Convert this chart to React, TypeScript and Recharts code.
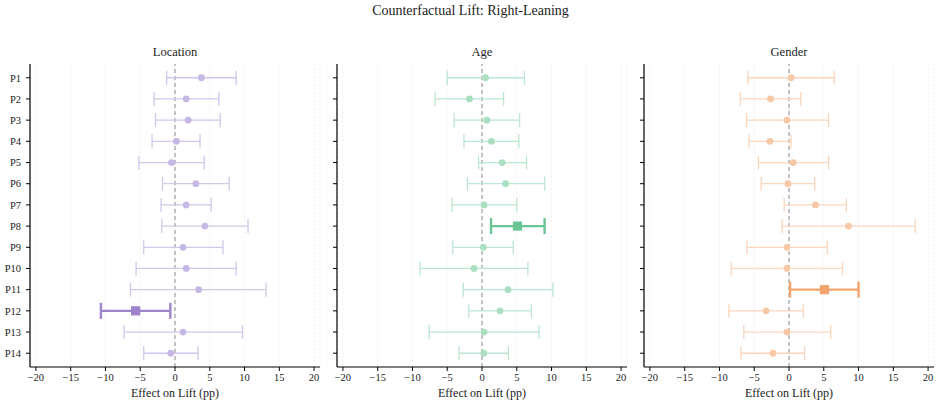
import React from 'react';
import {
  ScatterChart,
  Scatter,
  XAxis,
  YAxis,
  CartesianGrid,
  ReferenceLine,
  ErrorBar,
} from 'recharts';

// Profile rows, top to bottom
const ROW_LABELS = ['P1', 'P2', 'P3', 'P4', 'P5', 'P6', 'P7', 'P8', 'P9', 'P10', 'P11', 'P12', 'P13', 'P14'];
const X_TICKS = [-20, -15, -10, -5, 0, 5, 10, 15, 20];

// Location: point estimate and interval bounds (pp)
const locationMean = [3.8, 1.6, 1.9, 0.2, -0.5, 3.0, 1.6, 4.3, 1.15, 1.6, 3.4, -5.66, 1.15, -0.6];
const locationLow = [-1.2, -3.0, -2.8, -3.3, -5.2, -1.8, -2.0, -1.9, -4.5, -5.6, -6.4, -10.65, -7.3, -4.5];
const locationHigh = [8.8, 6.3, 6.5, 3.6, 4.2, 7.8, 5.2, 10.5, 6.9, 8.8, 13.1, -0.67, 9.7, 3.3];
const locationHighlight = 11;

// Age
const ageMean = [0.5, -1.8, 0.7, 1.35, 2.9, 3.4, 0.3, 5.1, 0.2, -1.15, 3.75, 2.6, 0.3, 0.25];
const ageLow = [-5.0, -6.75, -4.0, -2.6, -0.5, -2.1, -4.3, 1.3, -4.2, -8.9, -2.7, -1.9, -7.6, -3.3];
const ageHigh = [6.1, 3.1, 5.4, 5.3, 6.4, 9.0, 5.0, 9.0, 4.5, 6.6, 10.2, 7.1, 8.2, 3.8];
const ageHighlight = 7;

// Gender
const genderMean = [0.3, -2.65, -0.3, -2.75, 0.6, -0.15, 3.8, 8.55, -0.3, -0.3, 5.1, -3.3, -0.3, -2.3];
const genderLow = [-5.9, -7.0, -6.1, -5.75, -4.4, -4.0, -0.7, -1.0, -6.05, -8.3, 0.15, -8.65, -6.5, -6.9];
const genderHigh = [6.5, 1.7, 5.7, 0.3, 5.7, 3.7, 8.25, 18.15, 5.5, 7.7, 10.0, 2.05, 6.0, 2.25];
const genderHighlight = 10;

const FONT = '"Liberation Serif", "Times New Roman", serif';
const TICK_STYLE = { fontSize: 10.5, fill: '#222', fontFamily: FONT };

const fmtMinus = (v: number) => (v < 0 ? `\u2212${-v}` : `${v}`);

type PanelProps = {
  title: string;
  mean: number[];
  low: number[];
  high: number[];
  highlight: number;
  color: string;
  light: string;
  dot: string;
  left: number;
  showRowLabels: boolean;
};

const makeDot = (fill: string) => (props: any) => {
  const { cx, cy } = props;
  if (cx == null || cy == null) return <g />;
  return <circle cx={cx} cy={cy} r={3.4} fill={fill} />;
};

const makeSquare = (fill: string) => (props: any) => {
  const { cx, cy } = props;
  if (cx == null || cy == null) return <g />;
  return <rect x={cx - 4.6} y={cy - 4.6} width={9.2} height={9.2} fill={fill} />;
};

function Panel({ title, mean, low, high, highlight, color, light, dot, left, showRowLabels }: PanelProps) {
  const rows = mean.map((m, i) => ({ row: i, mean: m, err: [m - low[i], high[i] - m] }));
  const regular = rows.filter((r) => r.row !== highlight);
  const strong = rows.filter((r) => r.row === highlight);

  return (
    <div style={{ position: 'absolute', left, top: 0, width: 330, height: 406 }}>
      <div
        style={{
          position: 'absolute',
          left: 30,
          width: 290,
          top: 45,
          textAlign: 'center',
          fontFamily: FONT,
          fontSize: 12.5,
          color: '#222',
        }}
      >
        {title}
      </div>
      <ScatterChart width={330} height={406} margin={{ top: 64, right: 10, bottom: 0, left: 0 }}>
        <CartesianGrid horizontal={false} strokeDasharray="2 2" stroke="#eeeeee" strokeWidth={0.8} />
        <XAxis
          type="number"
          dataKey="mean"
          domain={[-20.85, 20.85]}
          allowDataOverflow
          ticks={X_TICKS}
          tickFormatter={fmtMinus}
          height={39}
          tick={TICK_STYLE}
          tickSize={4}
          tickMargin={3}
          axisLine={{ stroke: '#000', strokeWidth: 1.2 }}
          tickLine={{ stroke: '#000', strokeWidth: 1 }}
          label={{
            value: 'Effect on Lift (pp)',
            position: 'insideBottom',
            offset: 9,
            style: { fontSize: 12, fill: '#222', fontFamily: FONT },
          }}
        />
        <YAxis
          type="number"
          dataKey="row"
          domain={[-0.65, 13.65]}
          allowDataOverflow
          reversed
          ticks={ROW_LABELS.map((_, i) => i)}
          tickFormatter={(i: number) => (showRowLabels ? ROW_LABELS[i] ?? '' : '')}
          width={30}
          tick={TICK_STYLE}
          tickSize={4}
          tickMargin={5}
          axisLine={{ stroke: '#000', strokeWidth: 1.2 }}
          tickLine={{ stroke: '#000', strokeWidth: 1 }}
        />
        <ReferenceLine x={0} stroke="#8a8a8a" strokeDasharray="4 3" strokeWidth={1} />
        <Scatter data={regular} shape={makeDot(dot)} isAnimationActive={false}>
          <ErrorBar dataKey="err" direction="x" width={7} stroke={light} strokeWidth={1.3} />
        </Scatter>
        <Scatter data={strong} shape={makeSquare(color)} isAnimationActive={false}>
          <ErrorBar dataKey="err" direction="x" width={8} stroke={color} strokeWidth={2.4} />
        </Scatter>
      </ScatterChart>
    </div>
  );
}

export default function App() {
  return (
    <div style={{ position: 'absolute', left: 0, top: 0, width: 941, height: 406, background: '#fff' }}>
      <div
        style={{
          position: 'absolute',
          left: 0,
          width: 941,
          top: 3,
          textAlign: 'center',
          fontFamily: FONT,
          fontSize: 14,
          color: '#222',
        }}
      >
        Counterfactual Lift: Right-Leaning
      </div>
      <Panel
        title="Location"
        mean={locationMean}
        low={locationLow}
        high={locationHigh}
        highlight={locationHighlight}
        color="#9d84cc"
        light="#d2c7ea"
        dot="#c6b8e4"
        left={0}
        showRowLabels
      />
      <Panel
        title="Age"
        mean={ageMean}
        low={ageLow}
        high={ageHigh}
        highlight={ageHighlight}
        color="#6cc594"
        light="#bce6cf"
        dot="#aadfc2"
        left={307}
        showRowLabels={false}
      />
      <Panel
        title="Gender"
        mean={genderMean}
        low={genderLow}
        high={genderHigh}
        highlight={genderHighlight}
        color="#f3a46e"
        light="#fad6bd"
        dot="#f7c8a6"
        left={614}
        showRowLabels={false}
      />
    </div>
  );
}
